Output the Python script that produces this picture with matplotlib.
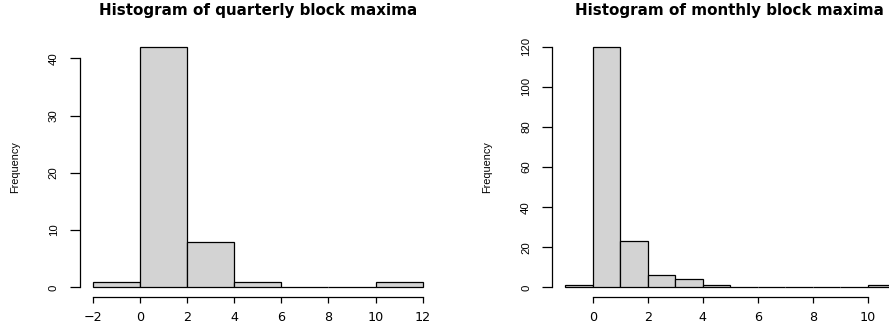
import numpy as np
import matplotlib
matplotlib.use('Agg')
import matplotlib.pyplot as plt

# datos
quarterly_edges = [-2, 0, 2, 4, 6, 8, 10, 12]
quarterly_counts = [1, 42, 8, 1, 0, 0, 1]
monthly_edges = [-1, 0, 1, 2, 3, 4, 5, 6, 7, 8, 9, 10, 11]
monthly_counts = [1, 120, 23, 6, 4, 1, 0, 0, 0, 0, 0, 1]

quarterly_xticks = [-2, 0, 2, 4, 6, 8, 10, 12]
quarterly_yticks = [0, 10, 20, 30, 40]
monthly_xticks = [0, 2, 4, 6, 8, 10]
monthly_yticks = [0, 20, 40, 60, 80, 100, 120]

W, H = 889, 327
fig = plt.figure(figsize=(W / 100, H / 100), dpi=100)


def px_axes(x0, x1, y0, y1):
    # coordenadas en pixeles (origen arriba a la izquierda)
    return fig.add_axes([x0 / W, 1 - y1 / H, (x1 - x0) / W, (y1 - y0) / H])


def r_hist(ax, edges, counts, xticks, yticks, title, title_x):
    edges = np.array(edges)
    widths = np.diff(edges)
    ax.bar(edges[:-1], counts, width=widths, align='edge',
           color='#d3d3d3', edgecolor='black', linewidth=0.9)
    # rango extendido 4% como en R
    xr = edges[-1] - edges[0]
    ax.set_xlim(edges[0] - 0.04 * xr, edges[-1] + 0.04 * xr)
    ymax = max(counts)
    ax.set_ylim(-0.04 * ymax, ymax * 1.04)

    for s in ['top', 'right']:
        ax.spines[s].set_visible(False)
    ax.spines['bottom'].set_bounds(xticks[0], xticks[-1])
    ax.spines['left'].set_bounds(yticks[0], yticks[-1])
    for s in ['bottom', 'left']:
        ax.spines[s].set_linewidth(0.9)

    ax.set_xticks(xticks)
    ax.set_xticklabels([str(t).replace('-', '\u2212') for t in xticks],
                       family='DejaVu Sans', fontsize=9.2)
    ax.set_yticks(yticks)
    ax.set_yticklabels([str(t) for t in yticks], rotation=90, va='center',
                       family='Liberation Sans', fontsize=8.2)
    ax.tick_params(axis='x', length=4.3, width=0.9, pad=6)
    ax.tick_params(axis='y', length=7, width=0.9, pad=8)

    fig.text(title_x / W, 1 - 11 / H, title, ha='center', va='center',
             fontsize=10.9, fontweight='bold', family='DejaVu Sans')


ax1 = px_axes(79.5, 435.9, 37.2, 297)
r_hist(ax1, quarterly_edges, quarterly_counts, quarterly_xticks,
       quarterly_yticks, 'Histogram of quarterly block maxima', 257.7)
fig.text(15 / W, 1 - 167 / H, 'Frequency', rotation=90, ha='center',
         va='center', family='Liberation Sans', fontsize=7.8)

ax2 = px_axes(552, 908.4, 37.2, 297)
r_hist(ax2, monthly_edges, monthly_counts, monthly_xticks,
       monthly_yticks, 'Histogram of monthly block maxima', 729)
fig.text(486.7 / W, 1 - 167 / H, 'Frequency', rotation=90, ha='center',
         va='center', family='Liberation Sans', fontsize=7.8)

fig.savefig('out.png', dpi=100)
